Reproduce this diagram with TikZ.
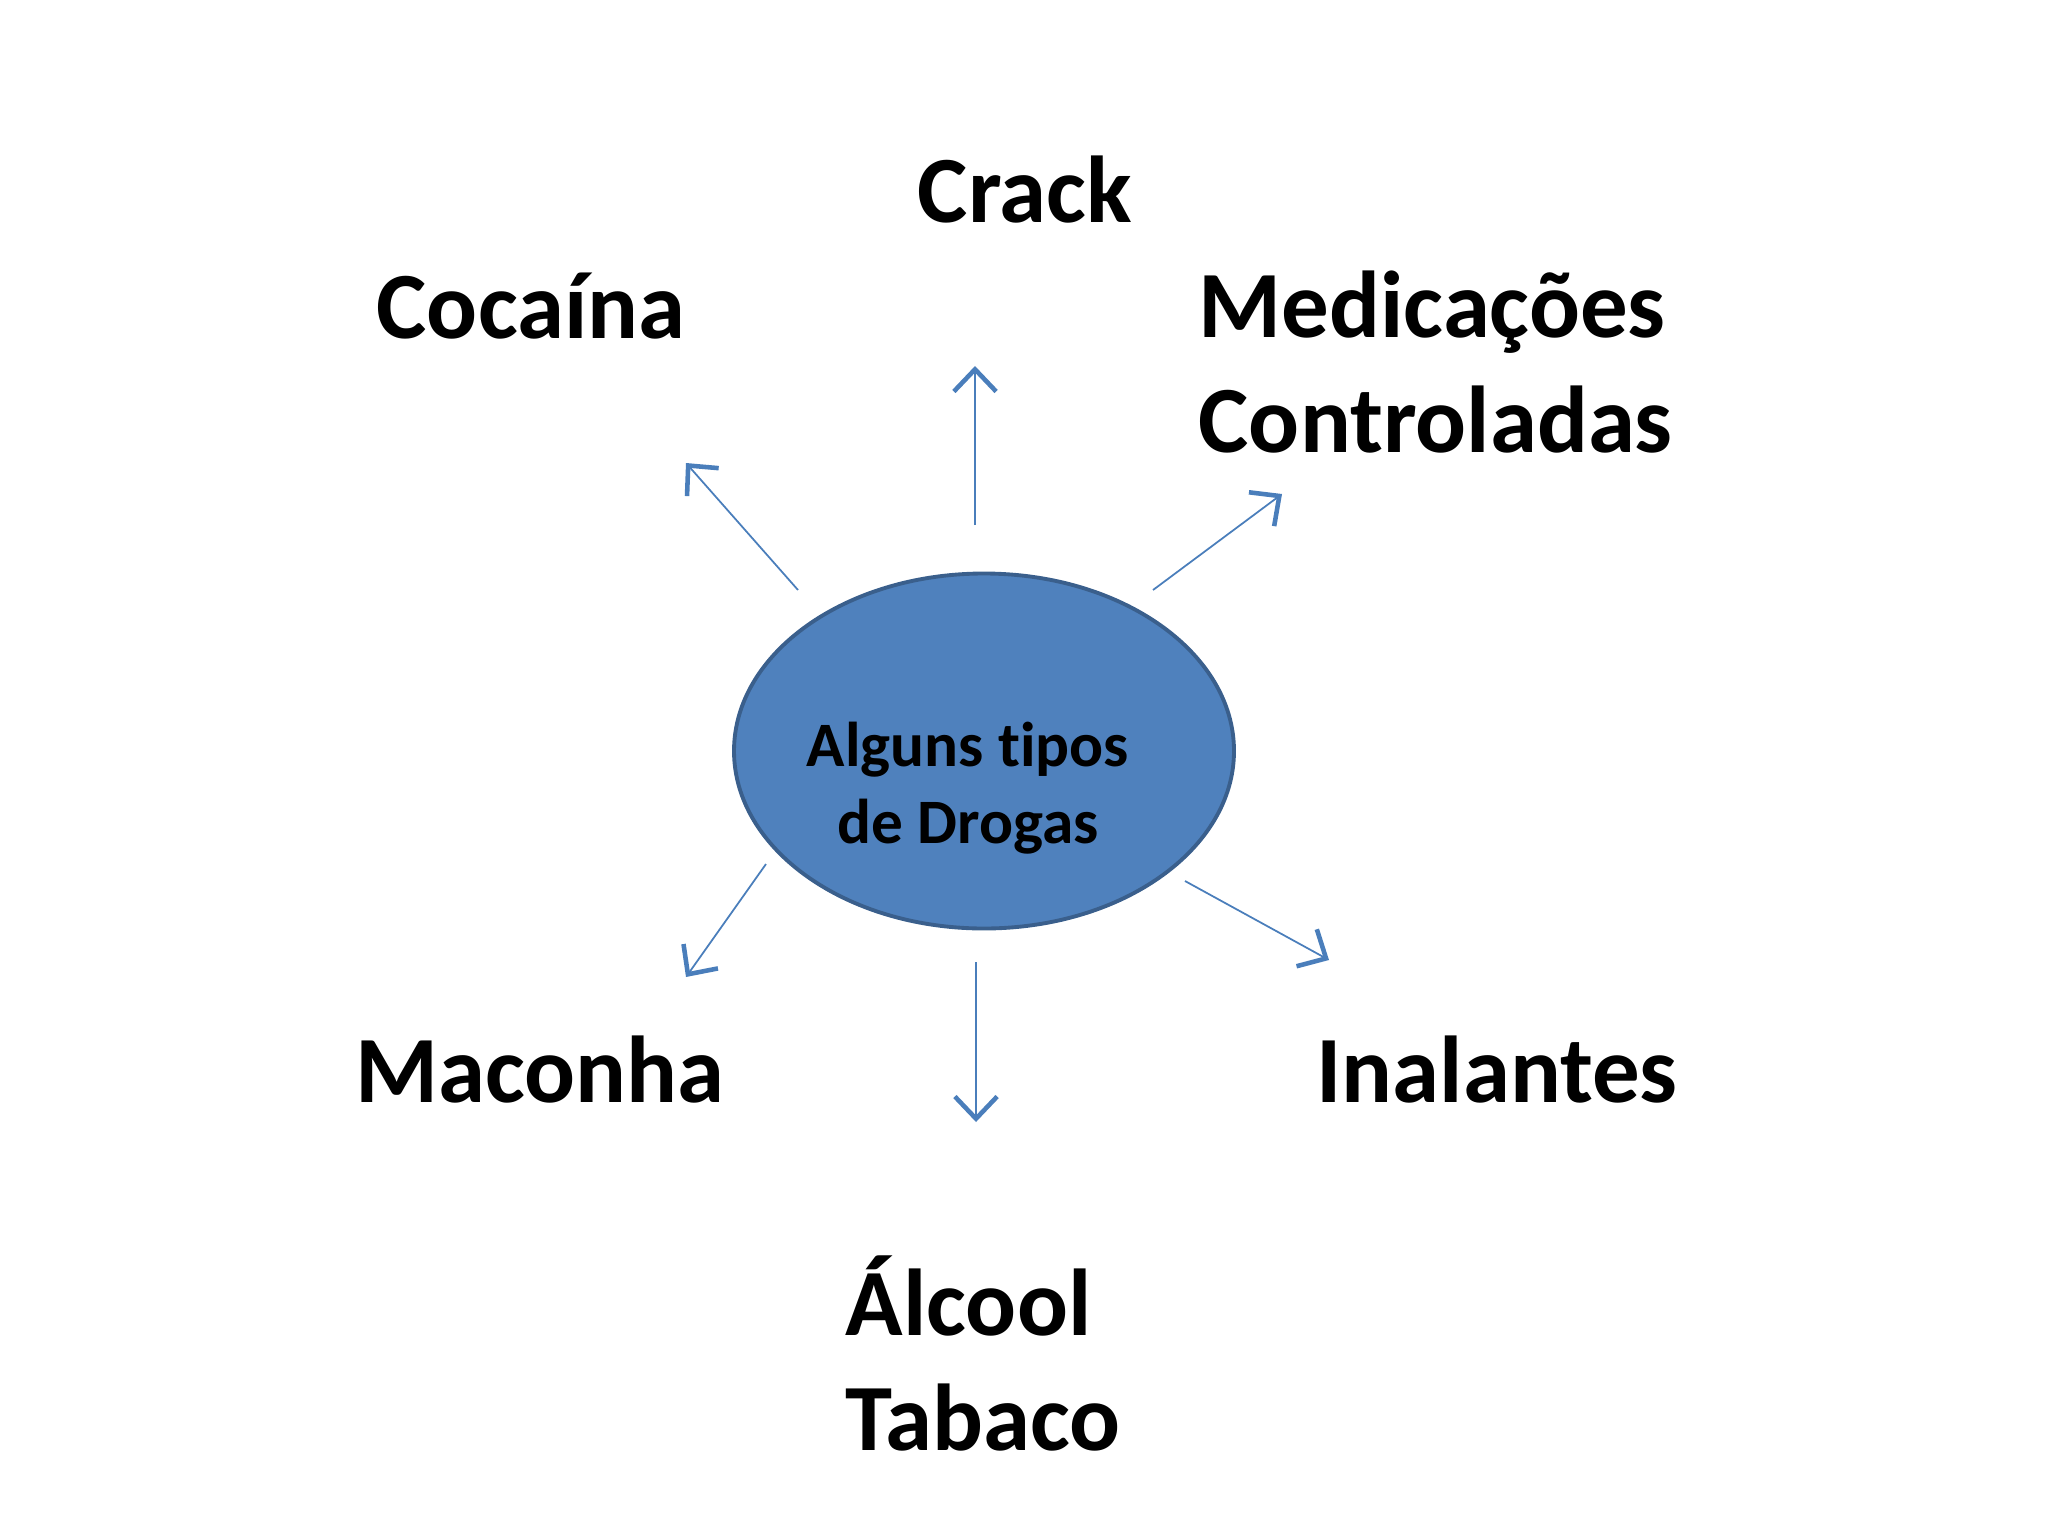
\documentclass[tikz,border=0pt]{standalone}
\usepackage{fontspec}
\setmainfont{Carlito}[Ligatures=NoCommon]
\usetikzlibrary{arrows.meta,shapes.geometric}
\definecolor{ovalblue}{HTML}{4F81BD}
\definecolor{ovalline}{HTML}{3A5F8C}
\definecolor{arrowblue}{HTML}{4A7EBB}
\newdimen\unitsize
\setlength{\unitsize}{0.01cm}

\begin{document}
\begin{tikzpicture}[x=\unitsize,y=-\unitsize]
\tikzset{drug/.style={font=\fontsize{27}{32.5}\selectfont\bfseries, inner sep=0pt, align=left}}%
\tikzset{oval/.style={ellipse, draw=ovalline, fill=ovalblue, line width=1.1pt, inner sep=0pt}}%
\tikzset{pointer/.style={draw=arrowblue, line width=0.5pt, -{Straight Barb[length=6.3pt, width=12pt, line width=1.3pt]}}}%
\useasboundingbox (0,0) rectangle (2048,1536);
\node[oval, minimum width=500\unitsize, minimum height=355\unitsize] (drugs) at (984,751) {};
% base of a two-line node is its last line
\node[font=\fontsize{18}{21.8}\selectfont\bfseries, inner sep=0pt, align=center, anchor=base] (drugstext) at (968,843) {Alguns tipos\\de Drogas};
\node[drug, anchor=base] (crack) at (1025,222) {Crack};
\node[drug, anchor=base] (cocaina) at (531,338) {Cocaína};
\node[drug, anchor=base west] (medic) at (1198,452) {Medicações\\Controladas};
\node[drug, anchor=base] (maconha) at (540,1102) {Maconha};
\node[drug, anchor=base] (inal) at (1497,1102) {Inalantes};
\node[drug, anchor=base west] (alcool) at (845,1450) {Álcool\\Tabaco};
\coordinate (cocS) at (798,590);
\coordinate (cocT) at (686,463);
\coordinate (crackS) at (975,525);
\coordinate (crackT) at (975,366);
\coordinate (medicS) at (1153,590);
\coordinate (medicT) at (1282,494);
\coordinate (inalS) at (1185,881);
\coordinate (inalT) at (1329,960);
\coordinate (macS) at (766,864);
\coordinate (macT) at (686,977);
\coordinate (alcS) at (976,962);
\coordinate (alcT) at (976,1122);
\draw[pointer] (cocS) -- (cocT);
\draw[pointer] (crackS) -- (crackT);
\draw[pointer] (medicS) -- (medicT);
\draw[pointer] (inalS) -- (inalT);
\draw[pointer] (macS) -- (macT);
\draw[pointer] (alcS) -- (alcT);
\end{tikzpicture}
\end{document}
